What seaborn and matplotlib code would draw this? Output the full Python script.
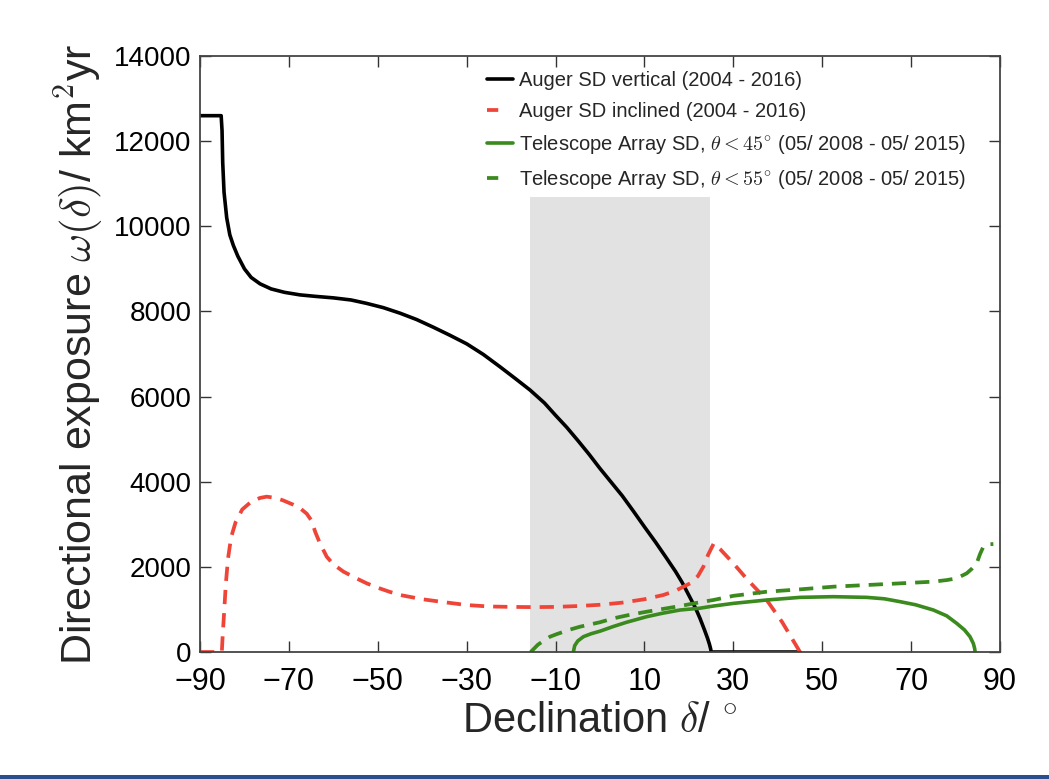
import matplotlib
matplotlib.use("Agg")
import matplotlib.pyplot as plt
import seaborn as sns
from matplotlib.patches import Rectangle

# Auger SD vertical (2004 - 2016)
vert_dec = [-90, -85.25, -85.05, -84.9, -84.6, -84.0, -83.3, -82.5, -81.5, -80.0,
            -78.5, -76.5, -74.0, -71.0, -67.5, -64.0, -60.0, -56.0, -52.5, -48.75,
            -45.0, -41.25, -37.5, -33.75, -30.0, -26.25, -22.5, -19.0, -15.75, -12.5,
            -10.0, -7.5, -5.0, -2.5, 0.0, 2.5, 5.0, 7.5, 10.0, 12.5, 15.0, 17.0,
            18.5, 20.0, 21.5, 22.5, 23.5, 24.2, 24.6, 24.9, 25.0, 45.0]
vert_exp = [12600, 12600, 12250, 11500, 10800, 10200, 9800, 9550, 9300, 9000,
            8800, 8650, 8530, 8450, 8390, 8355, 8320, 8270, 8190, 8090,
            7960, 7810, 7630, 7440, 7240, 6990, 6700, 6420, 6155, 5850,
            5560, 5280, 4970, 4650, 4310, 3990, 3670, 3310, 2940, 2580, 2200, 1890,
            1630, 1330, 1030, 790, 520, 320, 190, 70, 0, 0]

# Auger SD inclined (2004 - 2016)
incl_dec = [-90, -85.1, -84.9, -84.6, -84.2, -83.7, -83.0, -82.0, -80.5, -78.5,
            -76.5, -75.0, -73.0, -71.25, -69.0, -67.5, -66.0, -65.0, -64.0, -63.0,
            -61.5, -60.0, -57.75, -55.0, -52.5, -50.0, -47.5, -45.0, -40.0, -35.0,
            -30.0, -25.0, -20.0, -15.0, -10.0, -5.0, 0.0, 5.0, 10.0, 14.25, 17.0,
            20.25, 22.0, 23.25, 24.3, 25.6, 27.0, 30.0, 33.0, 37.5, 41.0, 45.0]
incl_exp = [0, 0, 400, 900, 1600, 2200, 2700, 3050, 3350, 3530,
            3620, 3650, 3620, 3560, 3460, 3380, 3250, 3100, 2800, 2550,
            2240, 2060, 1890, 1740, 1614, 1510, 1420, 1340, 1240, 1170,
            1104, 1070, 1060, 1055, 1060, 1080, 1110, 1160, 1240, 1340, 1440,
            1613, 1780, 2004, 2280, 2553, 2420, 2083, 1720, 1222, 700, 0]

# Telescope Array SD, theta < 45 deg
ta45_dec = [-6.0, -5.7, -5.0, -3.75, -2.0, 0.0, 3.0, 6.0, 10.5, 14.0, 18.0,
            22.5, 25.5, 30.0, 37.5, 45.0, 52.5, 60.0, 64.0, 67.5, 71.0, 75.0,
            78.0, 80.25, 82.0, 83.25, 84.0, 84.3, 84.4]
ta45_exp = [0, 150, 260, 360, 430, 490, 600, 700, 830, 910, 987,
            1030, 1080, 1143, 1222, 1284, 1300, 1284, 1250, 1183, 1110, 987,
            850, 674, 520, 360, 200, 80, 0]

# Telescope Array SD, theta < 55 deg
ta55_dec = [-15.6, -14.0, -12.5, -11.25, -9.75, -7.0, -4.5, 0.0, 3.0, 6.5,
            10.5, 14.0, 18.0, 22.0, 25.5, 30.0, 37.5, 45.0, 52.5, 60.0, 67.5,
            75.0, 78.0, 80.25, 82.5, 83.7, 84.75, 85.5, 86.25, 87.0, 88.5]
ta55_exp = [0, 170, 280, 360, 420, 520, 595, 700, 791, 870,
            947, 1010, 1080, 1160, 1222, 1320, 1417, 1472, 1535, 1574, 1613,
            1653, 1690, 1731, 1848, 1960, 2083, 2300, 2474, 2530, 2537]

# common declination band
band_lo, band_hi, band_top = -15.7, 24.8, 10700

x_ticks = [-90, -70, -50, -30, -10, 10, 30, 50, 70, 90]
y_ticks = [0, 2000, 4000, 6000, 8000, 10000, 12000, 14000]

sns.set_style("ticks")
plt.rcParams["font.family"] = ["Liberation Sans", "DejaVu Sans"]
plt.rcParams["mathtext.fontset"] = "cm"

fig = plt.figure(figsize=(10.49, 7.79), dpi=100)
ax = fig.add_axes([0.1907, 0.163, 0.7626, 0.765])

ax.add_patch(Rectangle((band_lo, 0), band_hi - band_lo, band_top,
                       facecolor="#e2e2e2", edgecolor="none", zorder=0))

red = "#ef4539"
green = "#3a8a1e"
dash = (0, (3.8, 2.4))

sns.lineplot(x=vert_dec, y=vert_exp, ax=ax, color="black", linewidth=2.6,
             estimator=None, sort=False, label="Auger SD vertical (2004 - 2016)")
sns.lineplot(x=incl_dec, y=incl_exp, ax=ax, color=red, linewidth=2.7,
             dashes=False, linestyle=dash, estimator=None, sort=False,
             label="Auger SD inclined (2004 - 2016)")
sns.lineplot(x=ta45_dec, y=ta45_exp, ax=ax, color=green, linewidth=2.6,
             estimator=None, sort=False,
             label=r"Telescope Array SD, $\theta < 45^{\circ}$ (05/ 2008 - 05/ 2015)")
sns.lineplot(x=ta55_dec, y=ta55_exp, ax=ax, color=green, linewidth=2.7,
             dashes=False, linestyle=dash, estimator=None, sort=False,
             label=r"Telescope Array SD, $\theta < 55^{\circ}$ (05/ 2008 - 05/ 2015)")

ax.set_xlim(-90, 90)
ax.set_ylim(0, 14000)
ax.set_xticks(x_ticks)
ax.set_xticklabels([f"\u2212{abs(v)}" if v < 0 else str(v) for v in x_ticks])
ax.set_yticks(y_ticks)
ax.tick_params(direction="in", length=8, width=1.0, colors="#333333",
               labelcolor="black", top=True, right=True, labelsize=20)
ax.tick_params(axis="x", pad=11, labelsize=22)
ax.tick_params(axis="y", pad=6)
for sp in ax.spines.values():
    sp.set_visible(True)
    sp.set_color("#444444")
    sp.set_linewidth(1.3)

ax.set_xlabel(r"Declination $\delta$/ $^{\circ}$", fontsize=30, labelpad=3)
ax.set_ylabel(r"Directional exposure $\omega(\delta)$/ km$^2$yr", fontsize=31,
              labelpad=6)

leg = ax.legend(loc="upper left", bbox_to_anchor=(0.343, 0.995), frameon=False,
                fontsize=14.5, handlelength=1.3, handletextpad=0.3,
                labelspacing=0.6, borderaxespad=0.2)
# dashed legend keys show a single short dash
for i in (1, 3):
    leg.get_lines()[i].set_linestyle((0, (3.0, 20.0)))

# thin blue rule along the lower edge
fig.patches.append(Rectangle((0, 0), 1, 4 / 779, transform=fig.transFigure,
                             facecolor="#2b4f8e", edgecolor="none", figure=fig))

fig.savefig("out.png", dpi=100)
